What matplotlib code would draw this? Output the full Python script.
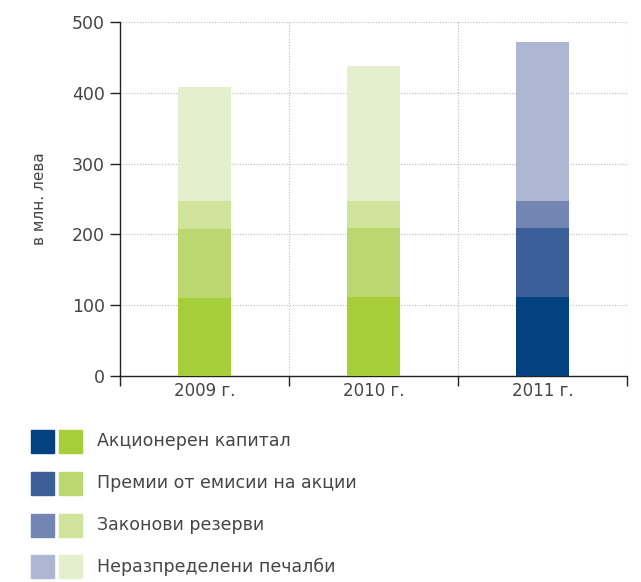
import matplotlib
matplotlib.use("Agg")
import matplotlib.pyplot as plt
from matplotlib.patches import Rectangle

# values in mln. leva
years = ["2009 г.", "2010 г.", "2011 г."]
share_capital = [110, 112, 112]
share_premium = [98, 97, 97]
legal_reserves = [39, 38, 38]
retained_earnings = [161, 191, 225]

series_labels = ["Акционерен капитал", "Премии от емисии на акции",
                 "Законови резерви", "Неразпределени печалби"]
greens = ["#A6CE39", "#BDD770", "#D1E49C", "#E4EFCD"]
blues = ["#034181", "#3D5F99", "#7385B3", "#ADB7D4"]
year_palette = ["green", "green", "blue"]

plt.rcParams["font.family"] = ["DejaVu Sans"]
TXT = "#454545"

fig = plt.figure(figsize=(6.41, 5.82), dpi=100)
ax = fig.add_axes([120 / 641, 1 - 376 / 582, 507 / 641, 354 / 582])

x = list(range(len(years)))
series = [share_capital, share_premium, legal_reserves, retained_earnings]
bottoms = [0] * len(years)
for k, vals in enumerate(series):
    cols = [greens[k] if p == "green" else blues[k] for p in year_palette]
    ax.bar(x, vals, width=0.31, bottom=bottoms, color=cols, zorder=3)
    bottoms = [b + v for b, v in zip(bottoms, vals)]

ax.set_xlim(-0.5, len(years) - 0.5)
ax.set_ylim(0, 500)
ax.set_yticks(range(0, 501, 100))
ax.set_xticks(x)
ax.set_xticklabels(years)
ax.set_xticks([i - 0.5 for i in range(len(years) + 1)], minor=True)
ax.tick_params(axis="x", which="major", length=0, pad=4, labelsize=12, labelcolor=TXT)
ax.tick_params(axis="x", which="minor", length=7, width=1, color="#222222", direction="out")
ax.tick_params(axis="y", length=7, width=1, color="#222222", labelsize=12.5, labelcolor=TXT, pad=4)

ax.grid(True, axis="y", which="major", color="#bdbdbd", linestyle=(0, (1, 1.5)), linewidth=0.8, zorder=0)
ax.grid(True, axis="x", which="minor", color="#bdbdbd", linestyle=(0, (1, 1.5)), linewidth=0.8, zorder=0)
for s in ["top", "right"]:
    ax.spines[s].set_visible(False)
for s in ["left", "bottom"]:
    ax.spines[s].set_color("#222222")
    ax.spines[s].set_linewidth(1)
ax.set_ylabel("в млн. лева", fontsize=11, color=TXT, labelpad=18)

# legend: a blue and a green swatch per row
W, H = 641, 582
for i, lab in enumerate(series_labels):
    yc = 441.5 + i * 41.8
    fig.add_artist(Rectangle((31 / W, 1 - (yc + 11.5) / H), 23 / W, 23 / H,
                             transform=fig.transFigure, color=blues[i]))
    fig.add_artist(Rectangle((59 / W, 1 - (yc + 11.5) / H), 23 / W, 23 / H,
                             transform=fig.transFigure, color=greens[i]))
    fig.text(97 / W, 1 - yc / H, lab, fontsize=12.5, color=TXT, va="center", ha="left")

fig.savefig("out.png", dpi=100)
